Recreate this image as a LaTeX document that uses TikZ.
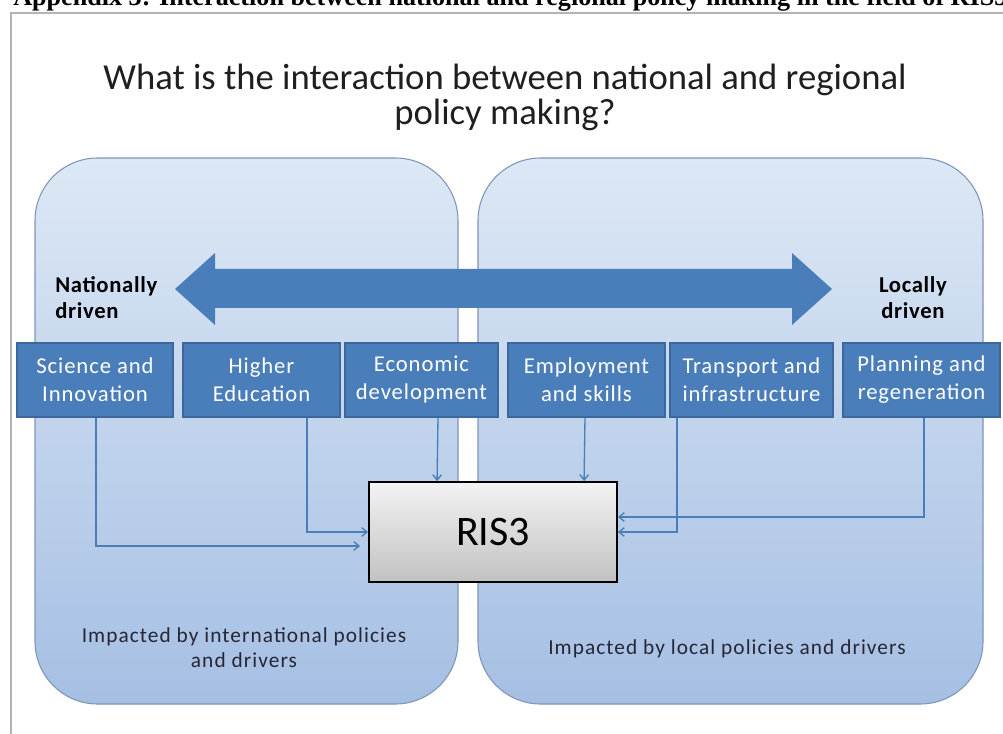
\documentclass[tikz,border=0pt]{standalone}
\usepackage{fontspec}
\setmainfont{Carlito}
\newfontfamily\headfont{Liberation Serif}
\newfontfamily\spacedfont[LetterSpace=5]{Carlito}
\newfontfamily\boxfont[LetterSpace=4]{Carlito}
\newfontfamily\drvfont[LetterSpace=3]{Carlito}
\usetikzlibrary{arrows.meta,calc}
\definecolor{panelTop}{HTML}{DDE8F5}
\definecolor{panelBot}{HTML}{A5BFE3}
\definecolor{panelEdge}{HTML}{7E95B6}
\definecolor{boxBlue}{HTML}{4A7EBB}
\definecolor{boxEdge}{HTML}{3B679C}
\definecolor{frameGray}{HTML}{B4B4B4}
\definecolor{risTop}{HTML}{F3F3F3}
\definecolor{risBot}{HTML}{C2C2C2}
\definecolor{darktext}{HTML}{262636}
\tikzset{
  panel/.style={draw=panelEdge, line width=0.8pt, top color=panelTop, bottom color=panelBot, rounded corners=47pt},
  pbox/.style={draw=boxEdge, line width=0.8pt, fill=boxBlue, text=white, align=center, inner sep=0pt,
    minimum height=55.5pt, font=\boxfont\fontsize{17}{21}\selectfont},
  drv/.style={inner sep=0pt, font=\drvfont\bfseries\fontsize{17}{20.25}\selectfont, text=black},
  imp/.style={inner sep=0pt, font=\spacedfont\fontsize{16}{18.75}\selectfont, text=darktext, align=center},
  ris/.style={draw=black, line width=1.4pt, top color=risTop, bottom color=risBot,
    minimum width=186pt, minimum height=75pt, inner sep=0pt, font=\fontsize{31.5}{36}\selectfont},
  conn/.style={draw=boxBlue, line width=1pt, -{Straight Barb[length=4pt,width=6.5pt]}}
}
\begin{document}
\begin{tikzpicture}[x=0.75pt,y=-0.75pt]
\useasboundingbox (0,0) rectangle (1003,734);
\clip (0,0) rectangle (1003,734);
% heading (cut off at top, as in the reference)
\node[anchor=base west, inner sep=0pt, font=\headfont\bfseries\fontsize{19.6}{22}\selectfont] (head) at (13,6)
  {Appendix 3: Interaction between national and regional policy making in the field of RIS3};
% frame
\draw[frameGray, line width=2.2pt] (11,740) -- (11,13) -- (1010,13);
% title
\node[anchor=north, inner sep=0pt, align=center, font=\fontsize{27.5}{26}\selectfont, text=black!88] (title) at (505,64)
  {What is the interaction between national and regional\\policy making?};
% panels
\path[panel] (35,158) rectangle (458,704);
\path[panel] (478,158) rectangle (983,704);
% big double arrow
\fill[boxBlue] (175,289) -- (215,253) -- (215,269) -- (792,269) -- (792,253) -- (832,289)
  -- (792,325) -- (792,308) -- (215,308) -- (215,325) -- cycle;
% driven labels
\node[drv, anchor=base west] (nat1) at (55,292) {Nationally};
\node[drv, anchor=base west] (nat2) at (55,319) {driven};
\node[drv, anchor=base] (loc1) at (913,292) {Locally};
\node[drv, anchor=base] (loc2) at (913,319) {driven};
% policy boxes
\node[pbox, minimum width=117pt] (b1) at (95,380) {Science and\\Innovation};
\node[pbox, minimum width=117.75pt] (b2) at (261.5,380) {Higher\\Education};
\node[pbox, minimum width=114.75pt] (b3) at (421.5,380) {Economic\\development};
\node[pbox, minimum width=117.75pt] (b4) at (586.5,380) {Employment\\and skills};
\node[pbox, minimum width=122.25pt] (b5) at (751.5,380) {Transport and\\infrastructure};
\node[pbox, minimum width=117.75pt] (b6) at (921.5,380) {Planning and\\regeneration};
% RIS3
\node[ris] (ris) at (493,532) {RIS3};
% connectors
\draw[conn] ($(b1.south)+(1,0)$) |- ($(ris.west)+(-8,14)$);
\draw[conn] ($(b2.south)+(45.5,0)$) |- (ris.west);
\draw[conn] ($(b3.south)+(16.5,0)$) -- ($(ris.north west)+(69,0)$);
\draw[conn] ($(b4.south)+(-1.5,0)$) -- ($(ris.north west)+(216,0)$);
\draw[conn] ($(b5.south)+(-74.5,0)$) |- (ris.east);
\draw[conn] ($(b6.south)+(2.5,0)$) |- ($(ris.east)+(0,-15)$);
% impacted labels
\node[imp, anchor=base] (imp1) at (244,642) {Impacted by international policies};
\node[imp, anchor=base] (imp2) at (244,667) {and drivers};
\node[imp, anchor=base] (imp3) at (727,654) {Impacted by local policies and drivers};
\end{tikzpicture}
\end{document}
